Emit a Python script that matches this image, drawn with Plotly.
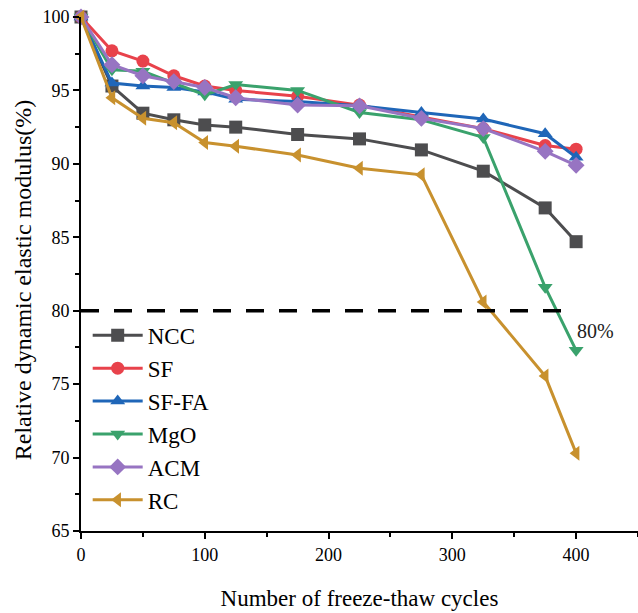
import plotly.graph_objects as go

cycles = [0, 25, 50, 75, 100, 125, 175, 225, 275, 325, 375, 400]
ncc = [100, 95.3, 93.45, 93.0, 92.65, 92.5, 92.0, 91.7, 90.95, 89.5, 87.0, 84.7]
sf = [100, 97.7, 97.0, 96.0, 95.3, 95.0, 94.6, 94.0, 93.2, 92.4, 91.25, 91.0]
sffa = [100, 95.5, 95.3, 95.2, 94.9, 94.4, 94.25, 93.95, 93.5, 93.05, 92.05, 90.45]
mgo = [100, 96.4, 96.3, 95.5, 94.7, 95.4, 95.0, 93.5, 93.0, 91.8, 81.6, 77.3]
acm = [100, 96.75, 96.0, 95.6, 95.2, 94.5, 94.0, 93.95, 93.1, 92.4, 90.85, 89.9]
rc = [100, 94.5, 93.1, 92.8, 91.45, 91.2, 90.6, 89.7, 89.25, 80.6, 75.55, 70.3]

names = ["NCC", "SF", "SF-FA", "MgO", "ACM", "RC"]
series = [ncc, sf, sffa, mgo, acm, rc]
colors = ["#4d4d4f", "#e8424b", "#1f66b8", "#3aa26c", "#9774c2", "#c8912e"]
symbols = ["square", "circle", "triangle-up", "triangle-down", "diamond", "triangle-left"]

threshold = 80
threshold_end = 392
label_text = "80%"

FONT = "'Liberation Serif', 'Times New Roman', 'DejaVu Serif', serif"

fig = go.Figure()
for n, s, c, m in zip(names, series, colors, symbols):
    fig.add_trace(go.Scatter(
        x=cycles, y=s, name=n, mode="lines+markers",
        line=dict(color=c, width=3),
        marker=dict(symbol=m, size=13, color=c),
        cliponaxis=False,
    ))

fig.add_shape(type="line", xref="x", yref="y", x0=0, x1=threshold_end,
              y0=threshold, y1=threshold,
              line=dict(color="black", width=3.5, dash="18px,15px"))
fig.add_annotation(x=416, y=78.6, xref="x", yref="y", text=label_text,
                   showarrow=False, font=dict(family=FONT, size=20, color="#222"))
fig.add_annotation(x=-0.104, y=0.488, xref="paper", yref="paper",
                   text="Relative dynamic elastic modulus(%)", textangle=-90,
                   showarrow=False, xanchor="center", yanchor="middle",
                   font=dict(family=FONT, size=24, color="black"))

axis_common = dict(
    showline=True, linecolor="black", linewidth=2,
    ticks="outside", ticklen=6, tickwidth=2, tickcolor="black",
    showgrid=False, zeroline=False,
    tickfont=dict(family=FONT, size=18, color="black"),
    minor=dict(ticks="outside", ticklen=4, tickwidth=2, tickcolor="black"),
)

fig.update_layout(
    width=638, height=613,
    margin=dict(l=81, r=0, t=17, b=82),
    paper_bgcolor="white", plot_bgcolor="white",
    font=dict(family=FONT),
    xaxis=dict(range=[0, 450], tickvals=[0, 100, 200, 300, 400],
               title=dict(text="Number of freeze-thaw cycles",
                          font=dict(family=FONT, size=23, color="black"), standoff=26),
               **axis_common),
    yaxis=dict(range=[65, 100], tickvals=[65, 70, 75, 80, 85, 90, 95, 100],
               **axis_common),
    legend=dict(x=0.012, y=0.4225, xanchor="left", yanchor="top",
                bgcolor="rgba(0,0,0,0)", font=dict(family=FONT, size=23, color="black"),
                tracegroupgap=0, itemwidth=50),
    showlegend=True,
)
fig.update_xaxes(minor=dict(tickvals=[50, 150, 250, 350, 450]))
fig.update_yaxes(minor=dict(tickvals=[67.5, 72.5, 77.5, 82.5, 87.5, 92.5, 97.5]))

fig.write_html("out.html")
